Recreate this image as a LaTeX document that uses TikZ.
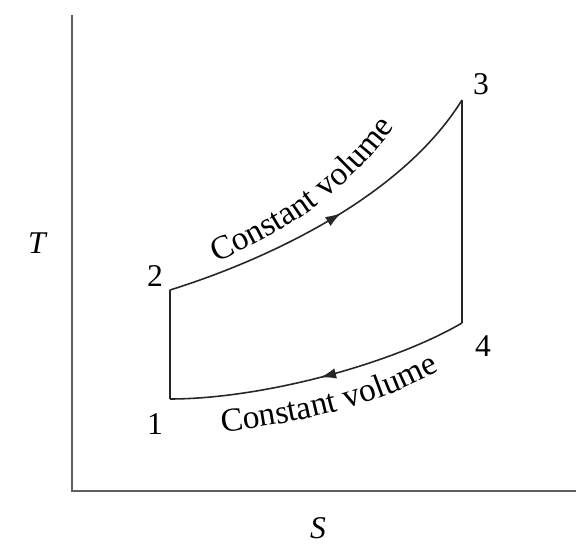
\documentclass[tikz,border=0pt]{standalone}
\usepackage{fontspec}
\setmainfont{Liberation Serif}
\usetikzlibrary{arrows.meta,decorations.markings,decorations.text}

\tikzset{
  axis/.style={gray!75!black, line width=1.3pt},
  process/.style={black!85, line width=0.9pt},
  midarrow/.style={postaction={decorate, decoration={markings,
      mark=at position #1 with {\arrow{Latex[length=9pt,width=6pt]}}}}},
  statelabel/.style={font=\fontsize{18}{20}\selectfont},
  curvetext/.style={postaction={decorate, decoration={text along path,
      text align={left indent=#1},
      text={|\fontsize{19}{21}\selectfont|Constant volume}}}},
}

\begin{document}
\begin{tikzpicture}[x=0.02cm, y=-0.02cm]
\useasboundingbox (0,0) rectangle (576,551);

% axes
\coordinate (O) at (72,491);
\coordinate (ytop) at (72,15);
\coordinate (xend) at (576,491);
\draw[axis] (ytop) -- (O) -- (xend);
\node[statelabel, font=\fontsize{18}{20}\selectfont\itshape] (tlabel) at (37,243) {T};
\node[statelabel, font=\fontsize{18}{20}\selectfont\itshape] (slabel) at (318,528) {S};

% states
\coordinate (p1) at (170,399);
\coordinate (p2) at (170,290);
\coordinate (p3) at (462,100);
\coordinate (p4) at (462,323);
\node[statelabel] (n1) at (155,424) {1};
\node[statelabel] (n2) at (155,276) {2};
\node[statelabel] (n3) at (481,84) {3};
\node[statelabel] (n4) at (483,346) {4};

% cycle
\draw[process] (p1) -- (p2);
\draw[process] (p3) -- (p4);
\draw[process, midarrow=0.53] (p2) .. controls (260,262) and (400,200) .. (p3);
\draw[process, midarrow=0.5] (p4) .. controls (390,365) and (260,399) .. (p1);

% labels along the curves
\path[curvetext=0pt] (216,262) .. controls (300,226) and (355,185) .. (405,112);
\path[curvetext=0pt] (222,432) .. controls (300,423) and (380,406) .. (448,366);
\end{tikzpicture}
\end{document}
